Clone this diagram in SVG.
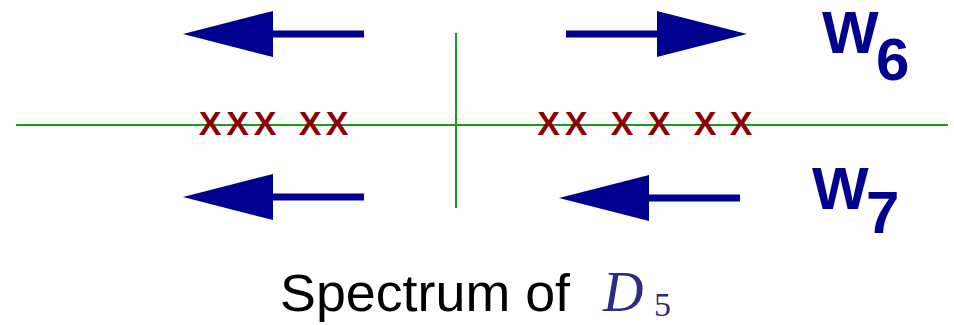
<svg xmlns="http://www.w3.org/2000/svg" xmlns:xlink="http://www.w3.org/1999/xlink" width="954" height="325" viewBox="0 0 954 325">
<style>
.axis{stroke:#1f9a1f;stroke-width:2;fill:none}
.arrow{fill:#000090}
.mark{font-family:"Liberation Sans",Arial,sans-serif;font-weight:bold;font-size:34px;fill:#8b0000;text-anchor:middle}
.lbl{font-family:"Liberation Sans",Arial,sans-serif;font-weight:bold;fill:#000090;font-size:60px}
.cap{font-family:"Liberation Sans",Arial,sans-serif;font-size:51px;fill:#000}
.math{font-family:"Liberation Serif","Times New Roman",serif;fill:#2e2a85}
</style>
<defs>
<path id="arr" d="M0,-3.5 H91 V-23 L181,0 L91,23 V3.5 H0 Z"/>
</defs>
<g id="axes">
<line class="axis" x1="16" y1="125" x2="948" y2="125"/>
<line class="axis" x1="456" y1="33" x2="456" y2="208"/>
</g>
<g id="connectors">
<use xlink:href="#arr" class="arrow" transform="translate(364,34) scale(-1,1)"/>
<use xlink:href="#arr" class="arrow" transform="translate(566,34)"/>
<use xlink:href="#arr" class="arrow" transform="translate(364,197) scale(-1,1)"/>
<use xlink:href="#arr" class="arrow" transform="translate(740,198) scale(-1,1)"/>
</g>
<g id="eigen-left">
<text class="mark" x="210" y="135">X</text>
<text class="mark" x="237.5" y="135">X</text>
<text class="mark" x="265" y="135">X</text>
<text class="mark" x="310" y="135">X</text>
<text class="mark" x="337" y="135">X</text>
</g>
<g id="eigen-right">
<text class="mark" x="548.5" y="135">X</text>
<text class="mark" x="576" y="135">X</text>
<text class="mark" x="622" y="135">X</text>
<text class="mark" x="659" y="135">X</text>
<text class="mark" x="705" y="135">X</text>
<text class="mark" x="741" y="135">X</text>
</g>
<g id="w6">
<text class="lbl" x="822" y="53">W</text>
<text class="lbl" x="876" y="80">6</text>
</g>
<g id="w7">
<text class="lbl" x="812" y="209">W</text>
<text class="lbl" x="866" y="233">7</text>
</g>
<g id="caption">
<text class="cap" x="280" y="311" textLength="290" lengthAdjust="spacingAndGlyphs">Spectrum of</text>
<text class="math" x="603" y="311" font-size="56" font-style="italic">D</text>
<text class="math" x="654" y="316" font-size="34">5</text>
</g>
</svg>
